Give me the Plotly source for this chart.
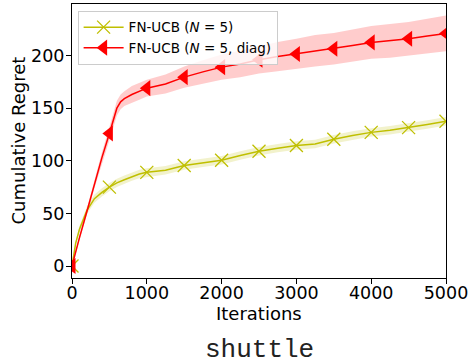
import plotly.graph_objects as go

iters_y = [0, 50, 100, 200, 300, 400, 500, 600, 700, 800, 900, 1000, 1250, 1500, 1750, 2000, 2250,
           2500, 2750, 3000, 3250, 3500, 3750, 4000, 4250, 4500, 4750, 5000]
regret_y = [0, 22, 35, 53, 64, 70, 75, 79, 82, 85, 87.5, 89, 91, 95.5, 98, 100.5, 105,
            109, 112, 114.5, 116, 120.5, 124, 127, 129, 131.5, 134.5, 137.5]
std_y = [0, 2, 3, 3.5, 4, 4, 4, 4, 4, 4, 4, 4, 4, 4, 4, 4, 4,
         4, 4, 4, 4, 4, 4, 4, 4, 4, 4, 4]

iters_r = [0, 50, 100, 200, 300, 400, 500, 550, 600, 650, 700, 800, 900, 1000, 1250, 1500, 1750,
           2000, 2250, 2500, 2750, 3000, 3250, 3500, 3750, 4000, 4250, 4500, 4750, 5000]
regret_r = [0, 14, 27, 52, 78, 103, 126, 138, 150, 156, 159, 163, 166, 169, 173, 179.5, 184.5,
            189, 192, 196, 199, 201.5, 204.5, 206.5, 209.5, 212.5, 214, 216, 218.5, 221]
std_r = [0, 1, 2, 3, 4, 5, 6, 7, 7, 7, 7, 8, 8, 8, 9, 10, 11,
         12, 12.5, 13, 14, 14.5, 15, 15, 15.5, 15.5, 16, 16, 16.5, 17]

marker_iters = [0, 500, 1000, 1500, 2000, 2500, 3000, 3500, 4000, 4500, 5000]

xticks = [0, 1000, 2000, 3000, 4000, 5000]
yticks = [0, 50, 100, 150, 200]

YEL = "rgb(191,191,0)"
RED = "rgb(255,0,0)"

fig = go.Figure()


def add_series(xs, ys, sd, color, fill, symbol, msize, name, mline):
    upper = [a + b for a, b in zip(ys, sd)]
    lower = [a - b for a, b in zip(ys, sd)]
    fig.add_trace(go.Scatter(x=xs + xs[::-1], y=upper + lower[::-1], fill="toself",
                             fillcolor=fill, line=dict(width=0), mode="lines",
                             showlegend=False, hoverinfo="skip"))
    fig.add_trace(go.Scatter(x=xs, y=ys, mode="lines", line=dict(color=color, width=1.5),
                             showlegend=False))
    mx = [x for x in xs if x in marker_iters]
    my = [y for x, y in zip(xs, ys) if x in marker_iters]
    mk = dict(symbol=symbol, size=msize, color=color, line=dict(color=color, width=mline))
    fig.add_trace(go.Scatter(x=mx, y=my, mode="markers", marker=mk, showlegend=False))
    fig.add_trace(go.Scatter(x=[None], y=[None], mode="lines+markers", name=name,
                             line=dict(color=color, width=1.5), marker=mk))


add_series(iters_y, regret_y, std_y, YEL, "rgba(191,191,0,0.2)", "x-thin", 13,
           "FN-UCB (<i>N</i> = 5)", 1.3)
add_series(iters_r, regret_r, std_r, RED, "rgba(255,0,0,0.2)", "triangle-left", 14,
           "FN-UCB (<i>N</i> = 5, diag)", 0)

axis_common = dict(showgrid=False, zeroline=False, showline=True, linecolor="black",
                   linewidth=1, mirror=True, ticks="outside", ticklen=5, tickcolor="black",
                   tickfont=dict(family="DejaVu Sans", size=17.5, color="black"))

fig.update_layout(
    width=471, height=364,
    margin=dict(l=72, r=23, t=3, b=86),
    paper_bgcolor="white", plot_bgcolor="white",
    xaxis=dict(range=[0, 5000], tickvals=xticks, ticklabelstandoff=-6, **axis_common),
    yaxis=dict(range=[-11.4, 249], tickvals=yticks, ticklabelstandoff=-2, **axis_common),
    legend=dict(x=0.015, y=0.975, xanchor="left", yanchor="top",
                bgcolor="rgba(255,255,255,0.8)", bordercolor="#cccccc", borderwidth=1,
                font=dict(family="DejaVu Sans", size=13.5, color="black"),
                tracegroupgap=0, itemwidth=40),
    annotations=[
        dict(text="Iterations", x=0.5, y=0, xref="paper", yref="paper", showarrow=False,
             yanchor="middle", yshift=-35, font=dict(family="DejaVu Sans", size=18, color="black")),
        dict(text="Cumulative Regret", x=0, y=0.5, xref="paper", yref="paper", showarrow=False,
             textangle=-90, xanchor="center", xshift=-54.5,
             font=dict(family="DejaVu Sans", size=18, color="black")),
        dict(text="shuttle", x=0.5, y=0, xref="paper", yref="paper", showarrow=False,
             yanchor="middle", yshift=-72, font=dict(family="Liberation Mono", size=26, color="#222")),
    ],
)

fig.write_html("out.html", post_script="document.body.style.margin='0';",
               config={"displayModeBar": False})
